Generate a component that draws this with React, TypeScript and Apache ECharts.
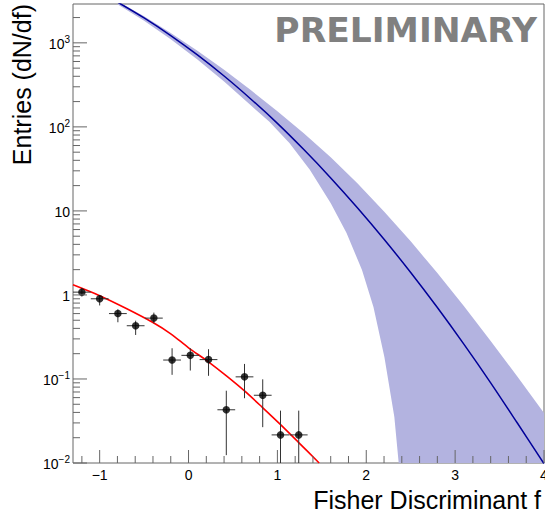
import React, { useEffect, useRef } from 'react';
import * as echarts from 'echarts';

// Axis ranges
const X_MIN = -1.3;
const X_MAX = 4.0;
const Y_MIN = 0.01;
const Y_MAX = 2900;

// Data points (bin centres, values, asymmetric vertical errors)
const pointX = [-1.2, -1.0, -0.795, -0.595, -0.39, -0.185, 0.02, 0.225, 0.425, 0.63, 0.835, 1.035, 1.24];
const pointY = [1.08, 0.9, 0.6, 0.43, 0.53, 0.168, 0.191, 0.17, 0.043, 0.106, 0.064, 0.0216, 0.0216];
const pointYLow = [0.955, 0.75, 0.473, 0.334, 0.46, 0.112, 0.126, 0.109, 0.0124, 0.059, 0.0267, 0.01, 0.01];
const pointYHigh = [1.2, 1.0, 0.675, 0.494, 0.616, 0.232, 0.232, 0.226, 0.0725, 0.151, 0.099, 0.042, 0.042];
const pointXErr = 0.1;

// Red fit curve
const redX = [-1.3, -1.0, -0.7, -0.4, -0.2, 0.0, 0.22, 0.43, 0.63, 0.83, 1.03, 1.24, 1.47];
const redY = [1.32, 0.98, 0.69, 0.47, 0.345, 0.235, 0.161, 0.108, 0.072, 0.046, 0.029, 0.0175, 0.01];

// Blue curve
const blueX = [-0.9, -0.8, -0.5, -0.2, 0.1, 0.4, 0.7, 1.0, 1.3, 1.6, 1.9, 2.2, 2.5, 2.8, 3.1, 3.4, 3.7, 4.0];
const blueY = [3500, 3062, 1981, 1222, 718, 403, 215, 110, 53.3, 24.7, 10.9, 4.6, 1.85, 0.708, 0.258, 0.09, 0.0299, 0.0098];

// Blue uncertainty band (upper edge left->right, lower edge left->right)
const bandUpperX = [-0.9, -0.8, -0.5, -0.2, 0.1, 0.4, 0.7, 1.0, 1.3, 1.6, 1.9, 2.2, 2.5, 2.8, 3.1, 3.4, 3.7, 4.0, 4.3, 4.3];
const bandUpperY = [3580, 3133, 2075, 1309, 805, 479, 274, 153, 83.6, 43.4, 21.3, 9.84, 4.34, 1.82, 0.736, 0.284, 0.107, 0.0394, 0.0145, 0.003];
const bandLowerX = [-0.9, -0.8, -0.5, -0.2, 0.1, 0.4, 0.7, 0.91, 1.135, 1.365, 1.599, 1.778, 1.952, 2.081, 2.204, 2.316, 2.365, 2.4];
const bandLowerY = [3340, 2890, 1828, 1102, 632, 347, 181, 115, 64.5, 30.8, 12.4, 5.47, 1.98, 0.72, 0.183, 0.0353, 0.01, 0.003];

// Ticks and labels
const xMajorTicks = [-1, 0, 1, 2, 3, 4];
const xMinorTicks = [-1.2, -0.8, -0.6, -0.4, -0.2, 0.2, 0.4, 0.6, 0.8, 1.2, 1.4, 1.6, 1.8, 2.2, 2.4, 2.6, 2.8, 3.2, 3.4, 3.6, 3.8];
const xTickLabels = ['\u22121', '0', '1', '2', '3', '4'];
const yMajorTicks = [0.01, 0.1, 1, 10, 100, 1000];
const yMinorTicks = [
  0.02, 0.03, 0.04, 0.05, 0.06, 0.07, 0.08, 0.09,
  0.2, 0.3, 0.4, 0.5, 0.6, 0.7, 0.8, 0.9,
  2, 3, 4, 5, 6, 7, 8, 9,
  20, 30, 40, 50, 60, 70, 80, 90,
  200, 300, 400, 500, 600, 700, 800, 900,
  2000,
];
const yLabelBase = ['10', '10', '1', '10', '10', '10'];
const yLabelExp = ['\u22122', '\u22121', '', '', '2', '3'];

const FONT = '"Liberation Sans", Arial, Helvetica, sans-serif';
const AXIS_COLOR = '#666';

export default function App() {
  const ref = useRef<HTMLDivElement>(null);

  useEffect(() => {
    const chart = echarts.init(ref.current as HTMLDivElement, null, { renderer: 'svg' });

    const option: any = {
      animation: false,
      backgroundColor: '#fff',
      grid: {
        left: 73,
        top: 4,
        width: 471,
        height: 459,
        show: true,
        borderColor: AXIS_COLOR,
        borderWidth: 1,
        backgroundColor: 'transparent',
      },
      xAxis: {
        type: 'value',
        min: X_MIN,
        max: X_MAX,
        axisLine: { show: false },
        axisTick: { show: false },
        axisLabel: { show: false },
        splitLine: { show: false },
      },
      yAxis: {
        type: 'log',
        logBase: 10,
        min: Y_MIN,
        max: Y_MAX,
        axisLine: { show: false },
        axisTick: { show: false },
        axisLabel: { show: false },
        splitLine: { show: false },
      },
      graphic: [
        {
          type: 'text',
          x: 537,
          y: 30,
          style: {
            text: 'PRELIMINARY',
            font: 'bold 34.5px "DejaVu Sans", sans-serif',
            fill: '#808080',
            align: 'right',
            verticalAlign: 'middle',
          },
          z: 10,
        },
        {
          type: 'text',
          x: 22,
          y: 4,
          rotation: Math.PI / 2,
          style: {
            text: 'Entries (dN/df)',
            font: '25px ' + FONT,
            fill: '#000',
            align: 'right',
            verticalAlign: 'middle',
          },
        },
        {
          type: 'text',
          x: 541,
          y: 500,
          style: {
            text: 'Fisher Discriminant f',
            font: '25px ' + FONT,
            fill: '#000',
            align: 'right',
            verticalAlign: 'middle',
          },
        },
      ],
      series: [
        {
          type: 'custom',
          name: 'band',
          clip: true,
          silent: true,
          z: 1,
          data: [[0, 1]],
          renderItem: (_params: any, api: any) => {
            const pts: number[][] = [];
            for (let i = 0; i < bandUpperX.length; i++) pts.push(api.coord([bandUpperX[i], bandUpperY[i]]));
            for (let i = bandLowerX.length - 1; i >= 0; i--) pts.push(api.coord([bandLowerX[i], bandLowerY[i]]));
            return {
              type: 'polygon',
              shape: { points: pts },
              style: { fill: '#b3b3e0', stroke: null },
            };
          },
        },
        {
          type: 'line',
          name: 'blue',
          z: 2,
          clip: true,
          smooth: 0.3,
          showSymbol: false,
          symbol: 'none',
          data: blueX.map((x, i) => [x, blueY[i]]),
          lineStyle: { color: '#000099', width: 1.5 },
        },
        {
          type: 'line',
          name: 'red',
          z: 3,
          clip: true,
          smooth: 0.3,
          showSymbol: false,
          symbol: 'none',
          data: redX.map((x, i) => [x, redY[i]]),
          lineStyle: { color: '#ff0000', width: 1.6 },
        },
        {
          type: 'custom',
          name: 'errors',
          z: 4,
          clip: true,
          silent: true,
          data: pointX.map((x, i) => [x, pointY[i], pointYLow[i], pointYHigh[i]]),
          renderItem: (_params: any, api: any) => {
            const x = api.value(0);
            const y = api.value(1);
            const lo = api.coord([x, api.value(2)]);
            const hi = api.coord([x, api.value(3)]);
            const l = api.coord([x - pointXErr, y]);
            const r = api.coord([x + pointXErr, y]);
            const st = { stroke: '#333', lineWidth: 1 };
            return {
              type: 'group',
              children: [
                { type: 'line', shape: { x1: lo[0], y1: lo[1], x2: hi[0], y2: hi[1] }, style: st },
                { type: 'line', shape: { x1: l[0], y1: l[1], x2: r[0], y2: r[1] }, style: st },
              ],
            };
          },
        },
        {
          type: 'scatter',
          name: 'data',
          z: 5,
          symbol: 'circle',
          symbolSize: 7.5,
          itemStyle: { color: '#000' },
          data: pointX.map((x, i) => [x, pointY[i]]),
        },
        {
          type: 'custom',
          name: 'xticks',
          z: 6,
          silent: true,
          data: [...xMajorTicks.map((v) => [v, 1]), ...xMinorTicks.map((v) => [v, 0])],
          renderItem: (_params: any, api: any) => {
            const p = api.coord([api.value(0), Y_MIN]);
            const len = api.value(1) === 1 ? 13 : 7;
            return {
              type: 'line',
              shape: { x1: p[0], y1: p[1], x2: p[0], y2: p[1] - len },
              style: { stroke: AXIS_COLOR, lineWidth: 1 },
            };
          },
        },
        {
          type: 'custom',
          name: 'yticks',
          z: 6,
          silent: true,
          data: [...yMajorTicks.map((v) => [1, v]), ...yMinorTicks.map((v) => [0, v])],
          renderItem: (_params: any, api: any) => {
            const p = api.coord([X_MIN, api.value(1)]);
            const len = api.value(0) === 1 ? 14 : 7;
            return {
              type: 'line',
              shape: { x1: p[0], y1: p[1], x2: p[0] + len, y2: p[1] },
              style: { stroke: AXIS_COLOR, lineWidth: 1 },
            };
          },
        },
        {
          type: 'custom',
          name: 'xlabels',
          z: 6,
          silent: true,
          data: xMajorTicks.map((v, i) => [v, 1, i]),
          renderItem: (_params: any, api: any) => {
            const p = api.coord([api.value(0), Y_MIN]);
            return {
              type: 'text',
              style: {
                text: xTickLabels[api.value(2)],
                x: p[0],
                y: p[1] + 12,
                font: '14px ' + FONT,
                fill: '#000',
                align: 'center',
                verticalAlign: 'middle',
              },
            };
          },
        },
        {
          type: 'custom',
          name: 'ylabels',
          z: 6,
          silent: true,
          data: yMajorTicks.map((v, i) => [i, v]),
          renderItem: (_params: any, api: any) => {
            const i = api.value(0);
            const p = api.coord([X_MIN, api.value(1)]);
            const exp = yLabelExp[i];
            const text = exp ? '{b|' + yLabelBase[i] + '}{e|' + exp + '}' : '{b|' + yLabelBase[i] + '}';
            return {
              type: 'text',
              style: {
                text,
                x: p[0] - 3,
                y: p[1] + 1,
                align: 'right',
                verticalAlign: 'middle',
                fill: '#000',
                rich: {
                  b: { font: '14px ' + FONT, fill: '#000' },
                  e: { font: '10px ' + FONT, fill: '#000', padding: [0, 0, 9, 0] },
                },
              },
            };
          },
        },
      ],
    };

    chart.setOption(option);
    return () => chart.dispose();
  }, []);

  return (
    <div
      ref={ref}
      style={{ position: 'fixed', left: 0, top: 0, width: 545, height: 515, background: '#fff' }}
    />
  );
}
